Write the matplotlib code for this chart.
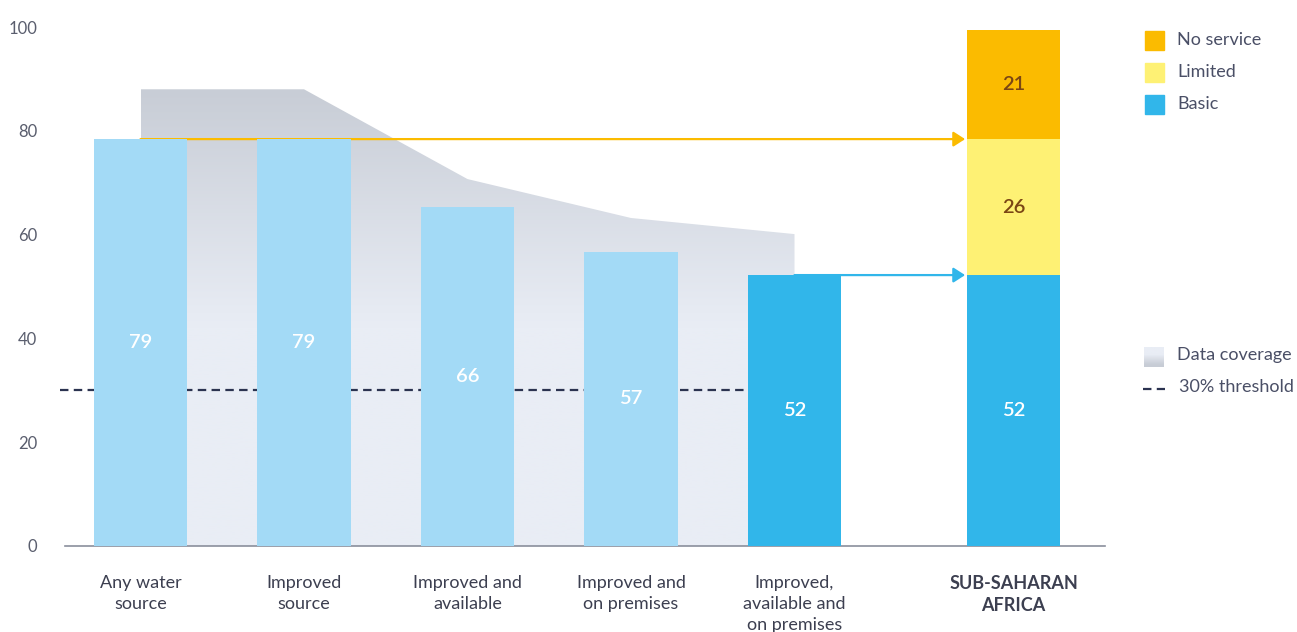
"""Water service ladder, sub-Saharan Africa: drop-off bars plus regional stack."""
import numpy as np
import matplotlib
matplotlib.use('Agg')
import matplotlib.pyplot as plt
from matplotlib.colors import LinearSegmentedColormap
from matplotlib.patches import Rectangle

plt.rcParams['font.family'] = ['Lato', 'DejaVu Sans']

# --- data -----------------------------------------------------------------
categories = ['Any water\nsource', 'Improved\nsource', 'Improved and\navailable',
              'Improved and\non premises', 'Improved,\navailable and\non premises']
values = [78.5, 78.5, 65.4, 56.7, 52.2]
value_labels = ['79', '79', '66', '57', '52']
coverage = [88.0, 88.0, 70.7, 63.2, 60.1]      # data coverage (%) per step
threshold = 30

region = 'SUB-SAHARAN\nAFRICA'
stack_names = ['Basic', 'Limited', 'No service']
stack_values = [52.2, 26.2, 21.0]
stack_labels = ['52', '26', '21']

# --- style ----------------------------------------------------------------
C_LIGHT = '#a3daf6'
C_BASIC = '#31b6ea'
C_LIM = '#fef174'
C_NONE = '#fbbb00'
C_DASH = '#2b3350'
C_TXT = '#3c3f50'
C_TICK = '#5a5e6e'
C_BROWN = '#7a4614'
stack_colors = [C_BASIC, C_LIM, C_NONE]
bar_colors = [C_LIGHT] * 4 + [C_BASIC]

W, H = 1297, 632
fig = plt.figure(figsize=(W / 100, H / 100), dpi=100)

# axes placed in pixel terms: x0=50..1110, y 546 (0) .. 27 (100)
ax = fig.add_axes([50 / W, 1 - 546 / H, 1060 / W, (546 - 27) / H])
step = 163.5
xlim = ((50 - 140.5) / step, (1110 - 140.5) / step)

x = np.arange(len(categories))
xr = 5.34
bw = 0.569

# data coverage area with vertical gradient
grad = LinearSegmentedColormap.from_list(
    'cov', [(0, '#e9edf5'), (0.42, '#e9edf5'), (0.88, '#c8cdd6'), (1, '#c7ccd5')])
poly = ax.fill_between(x, coverage, 0, facecolor='none', edgecolor='none')
im = ax.imshow(np.linspace(0, 1, 256).reshape(-1, 1), cmap=grad, origin='lower',
               extent=[x[0], x[-1], 0, 100], aspect='auto', zorder=1)
im.set_clip_path(poly.get_paths()[0], transform=ax.transData)
ax.set_xlim(*xlim)
ax.set_ylim(0, 100)

# 30% threshold
ax.plot([(60 - 140.5) / step, x[-1] - bw / 2 - 0.02], [threshold, threshold],
        color=C_DASH, lw=1.6, dashes=(3.8, 2.4), zorder=2)

# arrows to the regional stack
tip = xr - bw / 2 - 0.012
ax.annotate('', xy=(tip, stack_values[0] + stack_values[1]),
            xytext=(x[0], stack_values[0] + stack_values[1]),
            arrowprops=dict(arrowstyle='-|>,head_length=0.7,head_width=0.45',
                            color=C_NONE, lw=1.6, shrinkA=0, shrinkB=0), zorder=2)
ax.annotate('', xy=(tip, stack_values[0]), xytext=(x[-1], stack_values[0]),
            arrowprops=dict(arrowstyle='-|>,head_length=0.7,head_width=0.45',
                            color=C_BASIC, lw=1.6, shrinkA=0, shrinkB=0), zorder=2)

# ladder bars
ax.bar(x, values, width=bw, color=bar_colors, zorder=3)
for xi, v, lab in zip(x, values, value_labels):
    ax.text(xi, v / 2, lab, ha='center', va='center', color='white',
            fontsize=14.5, fontweight='semibold', zorder=4)

# regional stacked bar
bottom = 0
for v, c, lab in zip(stack_values, stack_colors, stack_labels):
    ax.bar(xr, v, bottom=bottom, width=bw, color=c, zorder=3)
    ax.text(xr, bottom + v / 2, lab, ha='center', va='center', fontsize=14.5,
            fontweight='semibold', color='white' if c == C_BASIC else C_BROWN, zorder=4)
    bottom += v

# axes cosmetics
for s in ['top', 'right', 'left']:
    ax.spines[s].set_visible(False)
ax.spines['bottom'].set_color('#8a8f9c')
ax.spines['bottom'].set_linewidth(1.2)
ax.spines['bottom'].set_bounds((65 - 140.5) / step, (1105 - 140.5) / step)
ax.set_yticks(range(0, 101, 20))
ax.tick_params(axis='y', length=0, pad=9, labelsize=12, labelcolor=C_TICK)
ax.set_xticks(list(x) + [xr])
ax.set_xticklabels(categories + [region], linespacing=1.38)
ax.tick_params(axis='x', length=0, pad=21, labelsize=13, labelcolor=C_TXT)
for t in ax.get_xticklabels()[-1:]:
    t.set_fontweight('bold')

# legend (drawn in pixel space)
lg = fig.add_axes([0, 0, 1, 1], facecolor='none')
lg.axis('off')
for yc, name, c in zip([40, 72, 104], stack_names[::-1], stack_colors[::-1]):
    lg.add_patch(Rectangle((1145, yc - 9.5), 19, 19, color=c))
    lg.text(1177, yc, name, va='center', ha='left', fontsize=13, color='#4a4f66')
lg.imshow(np.linspace(0, 1, 64).reshape(-1, 1), cmap=grad, vmin=-0.1, vmax=1.0,
          extent=[1144, 1164, 367, 347], aspect='auto')
lg.set_xlim(0, W)
lg.set_ylim(H, 0)
lg.text(1177, 355, 'Data coverage', va='center', ha='left', fontsize=13, color='#4a4f66')
lg.plot([1143, 1165], [389, 389], color=C_DASH, lw=1.6, dashes=(3.8, 2.4))
lg.text(1179, 387, '30% threshold', va='center', ha='left', fontsize=13, color='#4a4f66')

fig.savefig('out.png', dpi=100)
